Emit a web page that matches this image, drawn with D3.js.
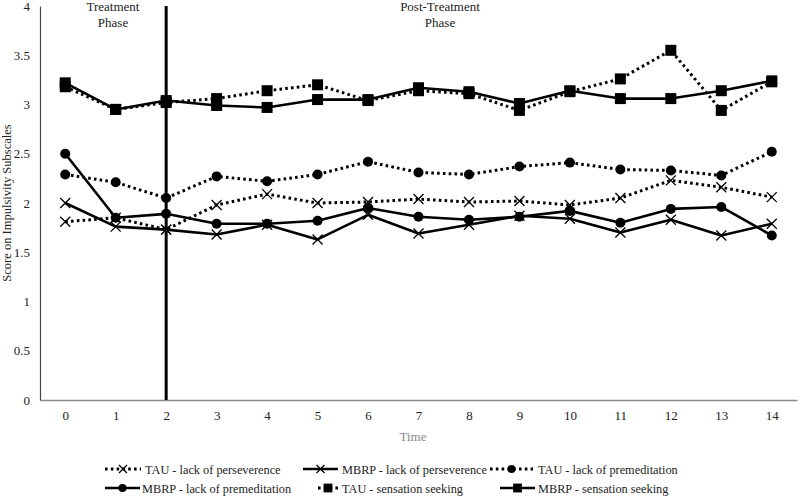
<!DOCTYPE html>
<html>
<head>
<meta charset="utf-8">
<script src="https://cdn.jsdelivr.net/npm/d3@7"></script>
<style>
  body { margin: 0; background: #fff; }
  svg text { font-family: 'Liberation Serif', 'Times New Roman', Times, 'DejaVu Serif', serif !important; }
</style>
</head>
<body>
<svg id="chart" width="800" height="497"></svg>
<script>
const timePoints = [0,1,2,3,4,5,6,7,8,9,10,11,12,13,14];
const yTicks = [0,0.5,1,1.5,2,2.5,3,3.5,4];

const tauPerseverence  = [1.81,1.85,1.73,1.98,2.09,2.00,2.01,2.04,2.01,2.02,1.98,2.05,2.23,2.16,2.06];
const mbrpPerseverence = [2.00,1.76,1.73,1.68,1.78,1.63,1.88,1.69,1.78,1.87,1.84,1.70,1.83,1.67,1.79];
const tauPremeditation = [2.29,2.21,2.05,2.27,2.22,2.29,2.42,2.31,2.29,2.37,2.41,2.34,2.33,2.28,2.52];
const mbrpPremeditation= [2.50,1.85,1.89,1.79,1.79,1.82,1.95,1.86,1.83,1.86,1.92,1.80,1.94,1.96,1.67];
const tauSensation     = [3.18,2.95,3.02,3.06,3.14,3.20,3.04,3.14,3.11,2.94,3.13,3.26,3.55,2.94,3.23];
const mbrpSensation    = [3.22,2.95,3.04,2.99,2.97,3.05,3.05,3.17,3.13,3.01,3.14,3.06,3.06,3.14,3.24];

const seriesNames = ["TAU - lack of perseverence","MBRP - lack of perseverence","TAU - lack of premeditation",
                     "MBRP - lack of premeditation","TAU - sensation seeking","MBRP - sensation seeking"];
const seriesValues = [tauPerseverence, mbrpPerseverence, tauPremeditation, mbrpPremeditation, tauSensation, mbrpSensation];
const seriesMarkers = ["x","x","circle","circle","square","square"];
const seriesDotted = [true,false,true,false,true,false];

const phaseLabels = [["Treatment","Phase"],["Post-Treatment","Phase"]];
const phaseBoundary = 2;

const FONT = "'Liberation Serif', 'Times New Roman', serif";
const svg = d3.select("#chart");
const x = d3.scalePoint().domain(timePoints).range([40, 797]).padding(0.5);
const y = d3.scaleLinear().domain([0, 4]).range([400, 6]);

// axes
const yAxis = svg.append("g").attr("transform","translate(40,0)")
  .call(d3.axisLeft(y).tickValues(yTicks).tickSize(0).tickPadding(10).tickFormat(d => String(d)));
yAxis.attr("font-family", FONT);
yAxis.select(".domain").attr("stroke","#444").attr("stroke-width",1.2);
yAxis.selectAll("text").attr("font-size",13).attr("fill","#222");

const xAxis = svg.append("g").attr("transform","translate(0,400)")
  .call(d3.axisBottom(x).tickSize(0).tickPadding(11));
xAxis.attr("font-family", FONT);
xAxis.select(".domain").attr("stroke","#888").attr("stroke-width",1.5);
xAxis.selectAll("text").attr("font-size",13).attr("fill","#222");

// axis titles
svg.append("text").attr("x",413).attr("y",441).attr("text-anchor","middle").attr("font-family",FONT)
  .attr("font-size",13).attr("fill","#888").text("Time");
svg.append("text").attr("transform","translate(11,203) rotate(-90)").attr("text-anchor","middle").attr("font-family",FONT)
  .attr("font-size",12.5).attr("fill","#222").text("Score on Impulsivity Subscales");

// phase boundary
svg.append("line").attr("x1",x(phaseBoundary)).attr("x2",x(phaseBoundary))
  .attr("y1",y(4)).attr("y2",y(0)).attr("stroke","#000").attr("stroke-width",3);

// phase labels
const phaseX = [113, 440];
phaseLabels.forEach((lines,i) => {
  lines.forEach((t,j) => {
    svg.append("text").attr("x",phaseX[i]).attr("y",11 + j*16).attr("text-anchor","middle").attr("font-family",FONT)
      .attr("font-size",13).attr("fill","#222").text(t);
  });
});

function drawMarker(g, type, cx, cy, scale) {
  scale = scale || 1;
  if (type === "square") {
    const s = 11*scale;
    g.append("rect").attr("x",cx-s/2).attr("y",cy-s/2).attr("width",s).attr("height",s).attr("fill","#000");
  } else if (type === "circle") {
    g.append("circle").attr("cx",cx).attr("cy",cy).attr("r",5*scale).attr("fill","#000");
  } else {
    const s = 5*scale;
    g.append("path").attr("d",`M${cx-s},${cy-s}L${cx+s},${cy+s}M${cx-s},${cy+s}L${cx+s},${cy-s}`)
      .attr("stroke","#000").attr("stroke-width",1.3).attr("fill","none");
  }
}

const line = d3.line().x((d,i) => x(timePoints[i])).y(d => y(d));
seriesValues.forEach((vals,k) => {
  const g = svg.append("g");
  g.append("path").datum(vals).attr("d",line).attr("fill","none").attr("stroke","#000")
    .attr("stroke-width", seriesDotted[k] ? 3 : 2.6)
    .attr("stroke-dasharray", seriesDotted[k] ? "2.6,3.2" : null)
    .attr("stroke-linejoin","round");
  vals.forEach((v,i) => drawMarker(g, seriesMarkers[k], x(timePoints[i]), y(v)));
});

// legend
const legendSym = [[105,141,469],[303,338,469],[490,533,469],[105,140,488],[318,338,488],[500,535,488]];
const legendTextX = [145, 342, 538, 142, 342, 538];
seriesNames.forEach((name,k) => {
  const [x1,x2,ly] = legendSym[k];
  const g = svg.append("g");
  g.append("line").attr("x1",x1).attr("x2",x2).attr("y1",ly).attr("y2",ly)
    .attr("stroke","#000").attr("stroke-width", seriesDotted[k] ? 3 : 2.6)
    .attr("stroke-dasharray", seriesDotted[k] ? "2.6,3.2" : null);
  drawMarker(g, seriesMarkers[k], (x1+x2)/2, ly, 0.8);
  g.append("text").attr("x",legendTextX[k]).attr("y",ly+4.5).attr("font-family",FONT)
    .attr("font-size",12.3).attr("fill","#222").text(name);
});
</script>
</body>
</html>
